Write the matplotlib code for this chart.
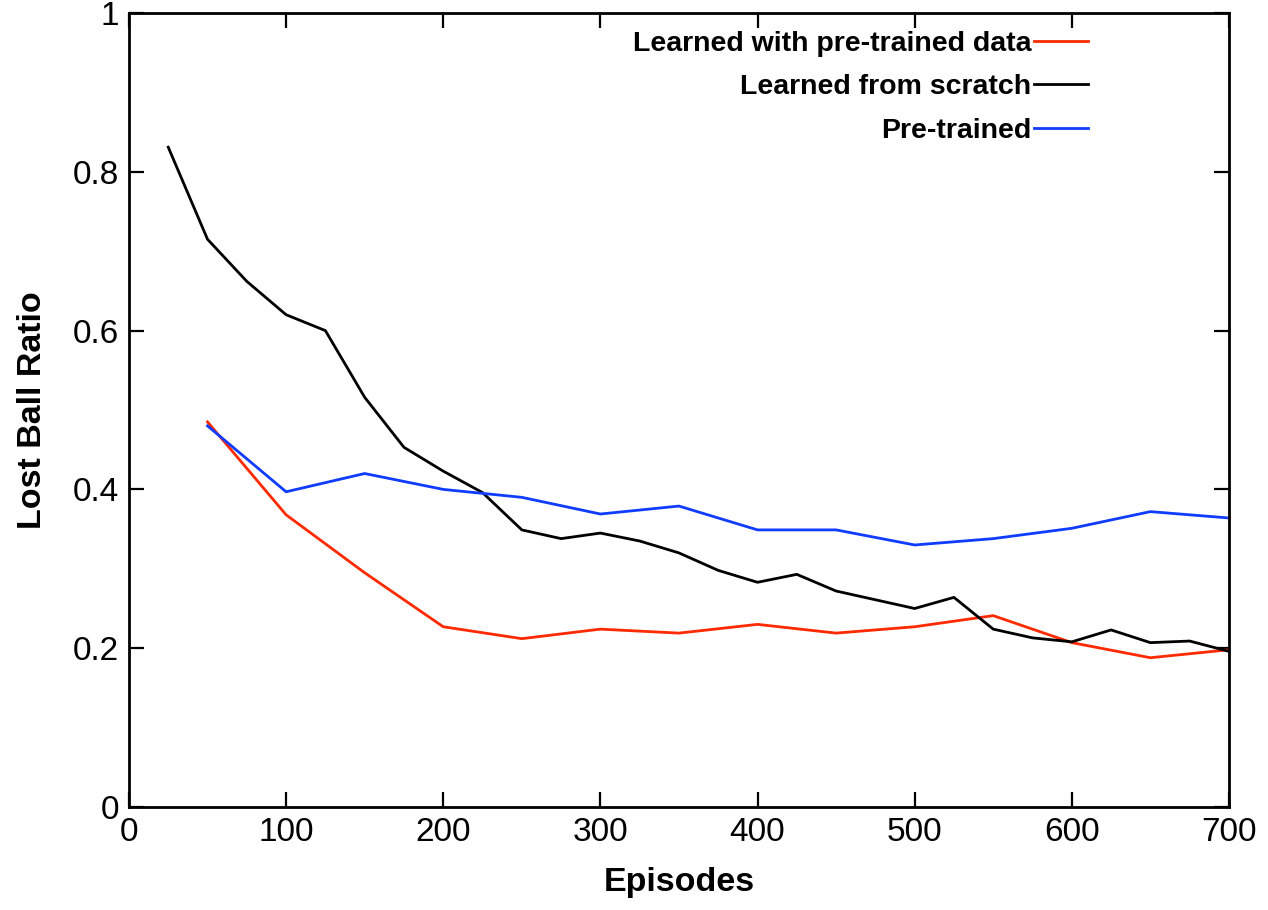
import numpy as np
import matplotlib.pyplot as plt

plt.rcParams['font.family'] = ['Liberation Sans', 'DejaVu Sans']

# learned from scratch, sampled every 25 episodes
ep_scratch = [25, 50, 75, 100, 125, 150, 175, 200, 225, 250, 275, 300, 325, 350,
              375, 400, 425, 450, 475, 500, 525, 550, 575, 600, 625, 650, 675, 700]
lost_scratch = [0.831, 0.715, 0.662, 0.620, 0.600, 0.516, 0.453, 0.423, 0.396, 0.349,
                0.338, 0.345, 0.335, 0.320, 0.298, 0.283, 0.293, 0.272, 0.261, 0.250,
                0.264, 0.224, 0.213, 0.208, 0.223, 0.207, 0.209, 0.196]

# pre-trained runs, sampled every 50 episodes
ep_pre = [50, 100, 150, 200, 250, 300, 350, 400, 450, 500, 550, 600, 650, 700]
lost_learned_pre = [0.485, 0.368, 0.295, 0.227, 0.212, 0.224, 0.219, 0.230, 0.219,
                    0.227, 0.241, 0.207, 0.188, 0.198]
lost_pretrained = [0.480, 0.397, 0.420, 0.400, 0.390, 0.369, 0.379, 0.349, 0.349,
                   0.330, 0.338, 0.351, 0.372, 0.364]

fig = plt.figure(figsize=(12.68, 9.10), dpi=100)
ax = fig.add_axes([0.1017, 0.1132, 0.8675, 0.8725])

ax.plot(ep_pre, lost_learned_pre, color='#ff2a00', lw=2, label='Learned with pre-trained data')
ax.plot(ep_scratch, lost_scratch, color='black', lw=2, label='Learned from scratch')
ax.plot(ep_pre, lost_pretrained, color='#0f3cff', lw=2, label='Pre-trained')

ax.set_xlim(0, 700)
ax.set_ylim(0, 1)
ax.set_xticks(np.arange(0, 701, 100))
ax.set_yticks([0, 0.2, 0.4, 0.6, 0.8, 1])
ax.set_yticklabels(['0', '0.2', '0.4', '0.6', '0.8', '1'])

for s in ax.spines.values():
    s.set_linewidth(2)
ax.tick_params(direction='in', length=11, width=1.6, labelsize=24,
               top=True, right=True, pad=7)

ax.set_xlabel('Episodes', fontsize=24.5, fontweight='bold', labelpad=14)
ax.set_ylabel('Lost Ball Ratio', fontsize=24.5, fontweight='bold', labelpad=18)

leg = ax.legend(loc='upper right', bbox_to_anchor=(0.8955, 1.01), frameon=False,
                markerfirst=False, handlelength=1.9, handletextpad=0.1,
                labelspacing=0.62,
                prop={'size': 20.5, 'weight': 'bold'})

fig.savefig('out.png', dpi=100)
